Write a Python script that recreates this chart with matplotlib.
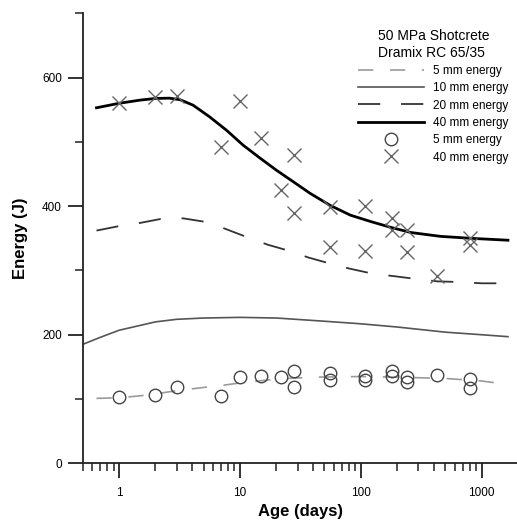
import matplotlib
matplotlib.use('Agg')
import matplotlib.pyplot as plt
from matplotlib.ticker import FixedLocator, LogLocator, NullFormatter
import numpy as np

plt.rcParams['font.family'] = ['Liberation Sans', 'DejaVu Sans']
plt.rcParams['lines.scale_dashes'] = False

# fitted curves (age in days, energy in J)
age_5 = [0.65, 1, 1.5, 2, 3, 5, 7, 10, 20, 40, 100, 200, 500, 1000, 1600]
e_5 = [101, 102, 105, 108, 113, 118, 121, 125, 131, 134, 135, 134, 132, 128, 123]

age_10 = [0.5, 0.7, 1, 2, 3, 5, 10, 20, 50, 100, 200, 500, 1000, 1650]
e_10 = [185, 196, 207, 220, 224, 226, 227, 226, 221, 217, 212, 204, 200, 197]

age_20 = [0.65, 1, 1.5, 2.2, 3.4, 5, 7.5, 11, 17, 25, 37, 55, 80, 125, 190, 280, 430, 650, 1000, 1500]
e_20 = [362, 369, 374, 380, 381, 376, 365, 353, 340, 331, 320, 311, 303, 295, 291, 287, 283, 282, 280, 280]

age_40 = [0.65, 1, 1.5, 2, 2.6, 3.2, 4.1, 5.6, 7.75, 10.6, 14.6, 20, 27.6, 38, 56, 82, 121, 177, 259, 457, 810, 1650]
e_40 = [553, 560, 565, 567.5, 568, 565.5, 557, 539, 518, 495, 475, 456, 438, 420, 401, 386, 376, 367, 359, 353, 350, 347]

# measured values
age_pts = [1, 2, 3, 7, 10, 15, 22, 28, 28, 56, 56, 108, 108, 180, 180, 239, 239, 426, 800, 800]
pts_5 = [103, 106, 118, 104, 134, 136, 134, 144, 119, 141, 130, 136, 130, 144, 136, 135, 127, 137, 131, 117]
pts_40 = [560, 570, 571, 492, 563, 506, 425, 480, 389, 399, 337, 401, 331, 381, 363, 363, 329, 291, 350, 339]

fig = plt.figure(figsize=(5.17, 5.25), dpi=100)
ax = fig.add_axes([0.16, 0.1175, 0.842, 0.8572])

ax.plot(age_5, e_5, color='#9a9a9a', lw=1.2, linestyle=(0, (11, 12)), label='5 mm energy')
ax.plot(age_10, e_10, color='#555555', lw=1.2, label='10 mm energy')
ax.plot(age_20, e_20, color='#333333', lw=1.3, linestyle=(0, (16, 15)), label='20 mm energy')
ax.plot(age_40, e_40, color='black', lw=2, label='40 mm energy')
ax.plot(age_pts, pts_5, linestyle='none', marker='o', ms=9, mfc='none', mec='#444444', mew=1,
        label='5 mm energy')
ax.plot(age_pts, pts_40, linestyle='none', marker='x', ms=9.5, color='#666666', mew=1,
        label='40 mm energy')

ax.set_xscale('log')
ax.set_xlim(0.5, 2000)
ax.set_ylim(0, 700)
ax.xaxis.set_major_locator(FixedLocator([1, 10, 100, 1000]))
ax.xaxis.set_minor_locator(LogLocator(base=10, subs=np.arange(2, 10)))
ax.xaxis.set_minor_formatter(NullFormatter())
ax.set_xticklabels(['1', '10', '100', '1000'])
ax.yaxis.set_major_locator(FixedLocator([0, 200, 400, 600]))
ax.yaxis.set_minor_locator(FixedLocator([100, 300, 500, 700]))

for s in ['top', 'right']:
    ax.spines[s].set_visible(False)
for s in ['left', 'bottom']:
    ax.spines[s].set_linewidth(1.3)
    ax.spines[s].set_color('#222222')

ax.tick_params(which='major', length=11, width=1.3, labelsize=8.5, color='#222222', pad=4)
ax.tick_params(axis='x', which='major', pad=6)
ax.tick_params(which='minor', length=6, width=1.1, color='#222222')

ax.set_xlabel('Age (days)', fontsize=12, fontweight='bold', labelpad=4)
ax.set_ylabel('Energy (J)', fontsize=12, fontweight='bold', labelpad=10)

leg = ax.legend(loc='upper left', bbox_to_anchor=(0.632, 0.964), frameon=False,
                title='50 MPa Shotcrete\nDramix RC 65/35', title_fontsize=10, fontsize=8.5,
                handlelength=5.6, handletextpad=0.8, labelspacing=0.45, borderaxespad=0,
                borderpad=0)
leg.get_title().set_multialignment('left')

plt.savefig('out.png', dpi=100)
